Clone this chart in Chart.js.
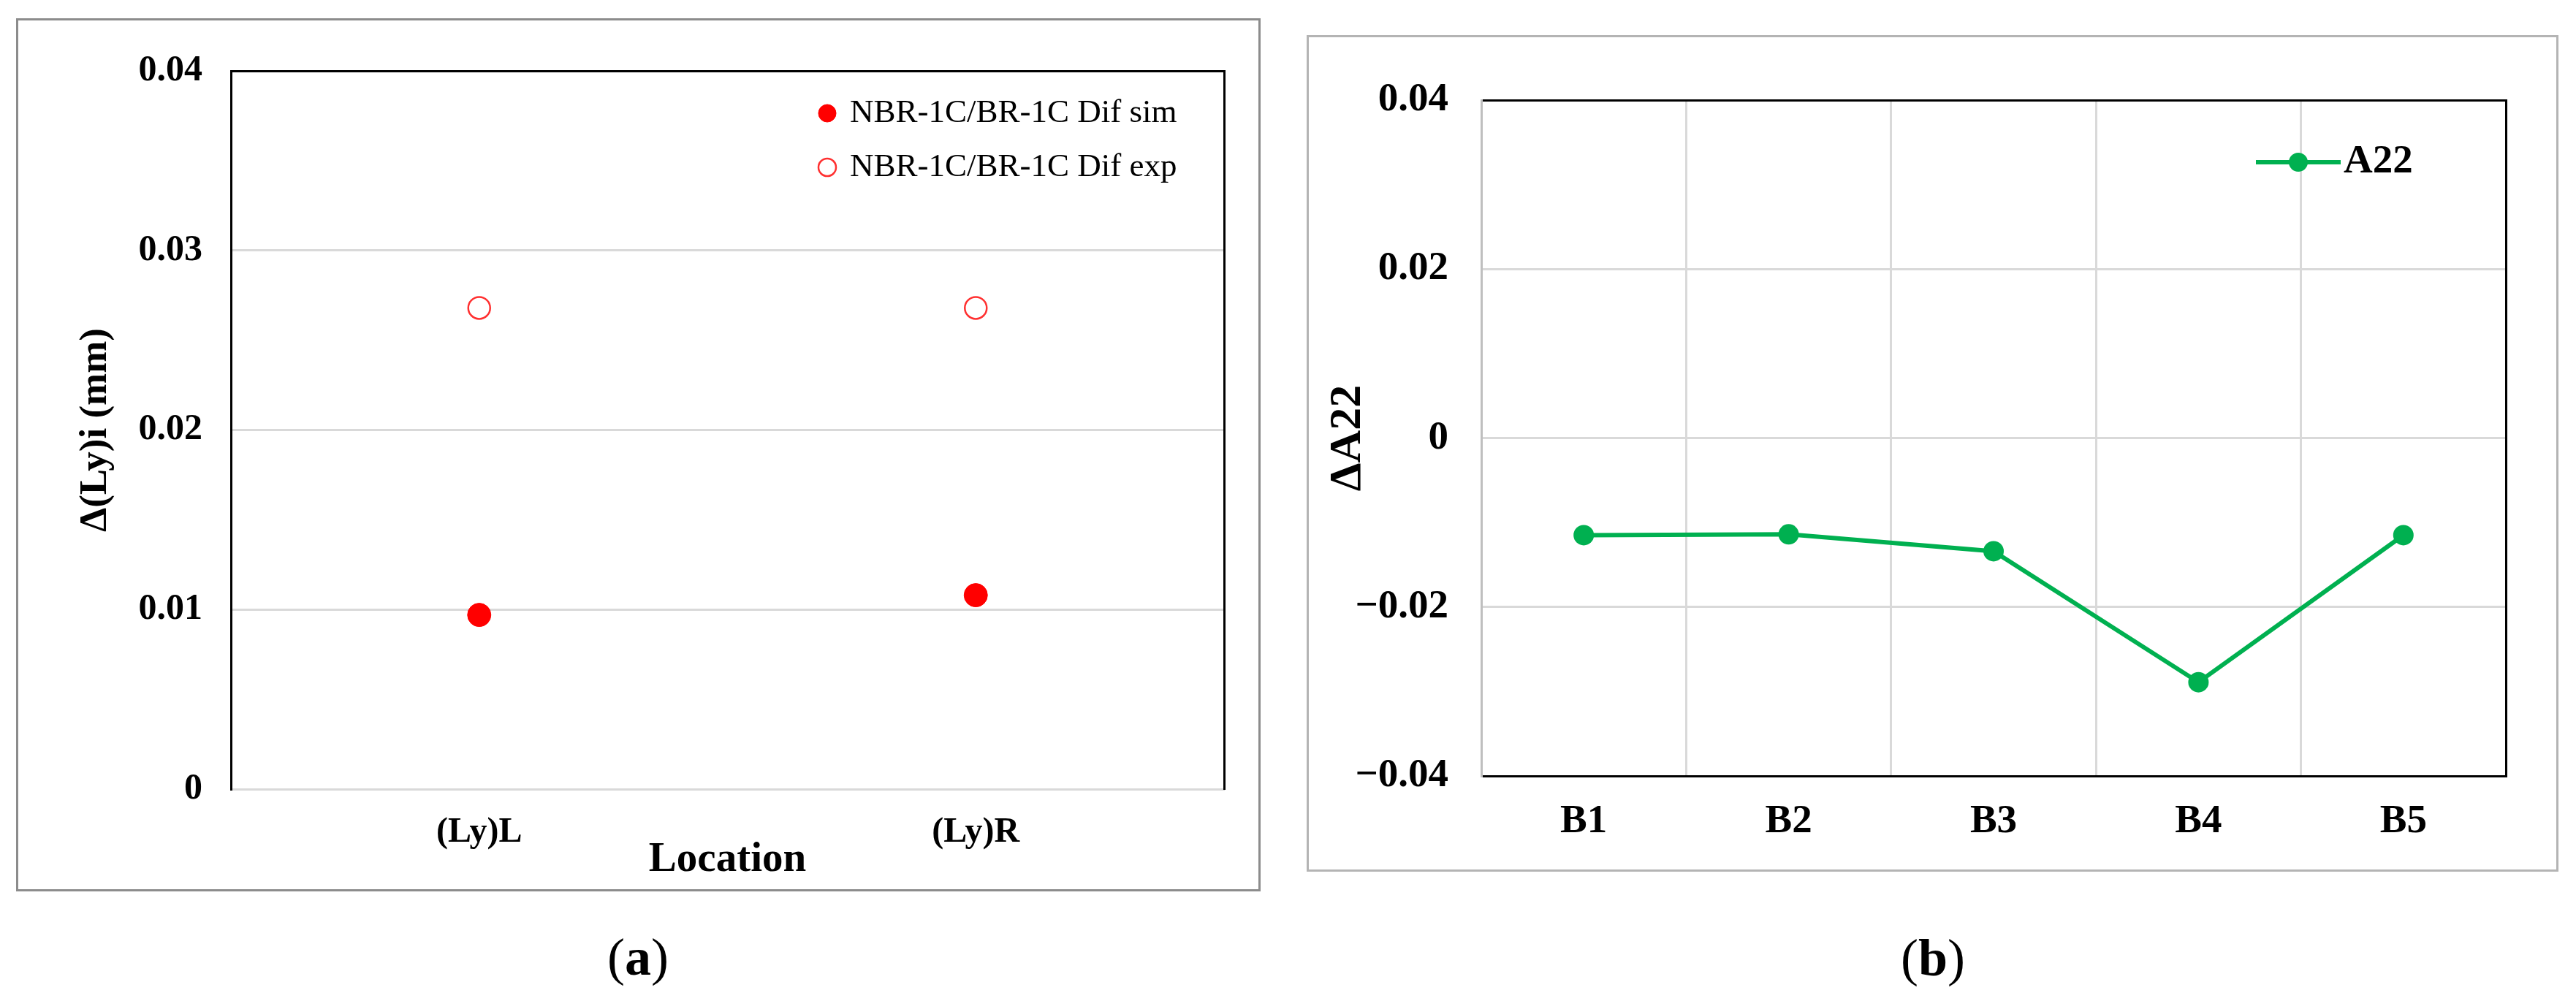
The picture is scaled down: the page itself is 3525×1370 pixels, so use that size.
<!DOCTYPE html>
<html>
<head>
<meta charset="utf-8">
<script src="https://cdn.jsdelivr.net/npm/chart.js@4.4.1/dist/chart.umd.min.js"></script>
<style>
html,body{margin:0;padding:0;background:#fff;}
body{width:3525px;height:1370px;position:relative;overflow:hidden;font-family:'Liberation Serif','Times New Roman',serif;}
.frame{position:absolute;box-sizing:border-box;background:#fff;}
.frame canvas{display:block;}
.cap{position:absolute;width:300px;text-align:center;font-size:72px;line-height:80px;color:#000;}
</style>
</head>
<body>
<div class="frame" style="left:22px;top:25px;width:1703px;height:1195px;border:3px solid #8c8c8c;"><canvas id="ca"></canvas></div>
<div class="frame" style="left:1788px;top:48px;width:1713px;height:1145px;border:3px solid #b4b4b4;"><canvas id="cb"></canvas></div>
<div class="cap" style="left:723px;top:1270px;">(<b>a</b>)</div>
<div class="cap" style="left:2495px;top:1271px;">(<b>b</b>)</div>
<script>
// ---- data: chart (a)
const locCats = ['(Ly)L', '(Ly)R'];
const simVals = [0.0097, 0.0108];
const expVals = [0.0268, 0.0268];
const yTicksA = [0, 0.01, 0.02, 0.03, 0.04];
const simLabel = 'NBR-1C/BR-1C Dif sim';
const expLabel = 'NBR-1C/BR-1C Dif exp';

// ---- data: chart (b)
const posCats = ['B1', 'B2', 'B3', 'B4', 'B5'];
const a22Vals = [-0.0115, -0.0114, -0.0134, -0.0289, -0.0115];
const yTicksB = [-0.04, -0.02, 0, 0.02, 0.04];
const a22Label = 'A22';

const SERIF = "'Liberation Serif', 'Times New Roman', serif";
const GREEN = '#00b050';
const RED = '#ff0000';
const GRID = '#d9d9d9';
Chart.defaults.color = '#000';

const fmt = v => String(Math.round(v * 100) / 100).replace('-', '\u2212');

// place the legend inside the plot area, relative to the chart area
const legendPlacer = {
  id: 'legendPlacer',
  afterLayout(chart, args, opts) {
    const lg = chart.legend, ca = chart.chartArea;
    if (!lg) return;
    lg.left = ca.right - opts.fromRight;
    lg.right = Math.max(lg.left + lg.width, ca.right);
    lg.top = ca.top + opts.fromTop;
    lg.bottom = ca.bottom;
  }
};

function frameAxis(pos, color) {
  const horiz = pos === 'top' || pos === 'bottom';
  return {
    type: horiz ? 'category' : 'linear',
    position: pos,
    display: true,
    grid: {display: false, drawTicks: false},
    ticks: {display: false},
    border: {color: color, width: 3, z: 1},
    afterFit: s => { if (horiz) s.height = 0; else s.width = 0; }
  };
}

// ---- chart (a)
new Chart(document.getElementById('ca'), {
  type: 'line',
  data: {
    labels: locCats,
    datasets: [
      {
        label: simLabel, data: simVals, xAxisID: 'x', yAxisID: 'y',
        showLine: false, pointRadius: 16, pointHoverRadius: 16,
        pointBackgroundColor: RED, pointBorderColor: RED, pointBorderWidth: 1,
        borderColor: RED, backgroundColor: RED
      },
      {
        label: expLabel, data: expVals, xAxisID: 'x', yAxisID: 'y',
        showLine: false, pointRadius: 15, pointHoverRadius: 15,
        pointBackgroundColor: '#ffffff', pointBorderColor: '#ff3030', pointBorderWidth: 2.5,
        borderColor: '#ff3030', backgroundColor: '#ffffff'
      }
    ]
  },
  options: {
    responsive: true, maintainAspectRatio: false, animation: false,
    layout: {padding: {top: 59, right: 47, bottom: 0, left: 0}},
    plugins: {
      tooltip: {enabled: false},
      legend: {
        position: 'chartArea', align: 'start',
        labels: {
          usePointStyle: true, boxWidth: 17, boxHeight: 17, padding: 29, color: '#000',
          font: {family: SERIF, size: 45}
        }
      },
      legendPlacer: {fromRight: 580.5, fromTop: 6.5}
    },
    scales: {
      x: {
        type: 'category', offset: true,
        grid: {display: false, drawTicks: false},
        border: {color: GRID, width: 3, z: 1},
        ticks: {color: '#000', padding: 31, font: {family: SERIF, size: 48, weight: 'bold'}},
        title: {display: true, text: 'Location', color: '#000',
                font: {family: SERIF, size: 57, weight: 'bold'}, padding: {top: 0, bottom: 6}},
        afterFit: s => { s.height = 137; }
      },
      x2: frameAxis('top', '#000'),
      y: {
        type: 'linear', min: 0, max: 0.04,
        afterBuildTicks: s => { s.ticks = yTicksA.map(v => ({value: v})); },
        grid: {color: GRID, lineWidth: 3, drawTicks: false},
        border: {color: '#000', width: 3, z: 1},
        ticks: {color: '#000', padding: 39, font: {family: SERIF, size: 50, weight: 'bold'}, callback: v => fmt(v)},
        title: {display: true, text: '\u0394(Ly)i (mm)', color: '#000',
                font: {family: SERIF, size: 53, weight: 'bold'}, padding: {top: 75, bottom: 0}},
        afterFit: s => { s.width = 291; }
      },
      y2: frameAxis('right', '#000')
    }
  },
  plugins: [legendPlacer]
});

// ---- chart (b)
const glyph = document.createElement('canvas');
glyph.width = 116; glyph.height = 30;
(function () {
  const g = glyph.getContext('2d');
  g.strokeStyle = GREEN; g.lineWidth = 6;
  g.beginPath(); g.moveTo(0, 15); g.lineTo(116, 15); g.stroke();
  g.fillStyle = GREEN;
  g.beginPath(); g.arc(58, 15, 13, 0, Math.PI * 2); g.fill();
})();

new Chart(document.getElementById('cb'), {
  type: 'line',
  data: {
    labels: posCats,
    datasets: [{
      label: a22Label, data: a22Vals, xAxisID: 'x', yAxisID: 'y',
      borderColor: GREEN, backgroundColor: GREEN, borderWidth: 6, tension: 0,
      pointRadius: 14, pointHoverRadius: 14,
      pointBackgroundColor: GREEN, pointBorderColor: GREEN, pointBorderWidth: 0
    }]
  },
  options: {
    responsive: true, maintainAspectRatio: false, animation: false,
    layout: {padding: {top: 86, right: 69, bottom: 0, left: 0}},
    plugins: {
      tooltip: {enabled: false},
      legend: {
        position: 'chartArea', align: 'start',
        labels: {
          usePointStyle: true, pointStyleWidth: 69, boxHeight: 20, padding: 30, color: '#000',
          font: {family: SERIF, size: 55, weight: 'bold'},
          generateLabels: ch => {
            const items = Chart.defaults.plugins.legend.labels.generateLabels(ch);
            items.forEach(it => { it.pointStyle = glyph; });
            return items;
          }
        }
      },
      legendPlacer: {fromRight: 348.5, fromTop: 27.5}
    },
    scales: {
      x: {
        type: 'category', offset: true,
        grid: {offset: true, color: GRID, lineWidth: 3, drawTicks: false},
        border: {color: '#000', width: 3, z: 1},
        ticks: {color: '#000', padding: 30, font: {family: SERIF, size: 55, weight: 'bold'}},
        afterFit: s => { s.height = 128; }
      },
      x2: frameAxis('top', '#000'),
      y: {
        type: 'linear', min: -0.04, max: 0.04,
        afterBuildTicks: s => { s.ticks = yTicksB.map(v => ({value: v})); },
        grid: {color: GRID, lineWidth: 3, drawTicks: false},
        border: {color: '#bfbfbf', width: 3, z: 1},
        ticks: {color: '#000', padding: 45, font: {family: SERIF, size: 55, weight: 'bold'}, callback: v => fmt(v)},
        title: {display: true, text: '\u0394A22', color: '#000',
                font: {family: SERIF, size: 62, weight: 'bold'}, padding: {top: 17, bottom: 0}},
        afterFit: s => { s.width = 236; }
      },
      y2: frameAxis('right', '#000')
    }
  },
  plugins: [legendPlacer]
});
</script>
</body>
</html>
